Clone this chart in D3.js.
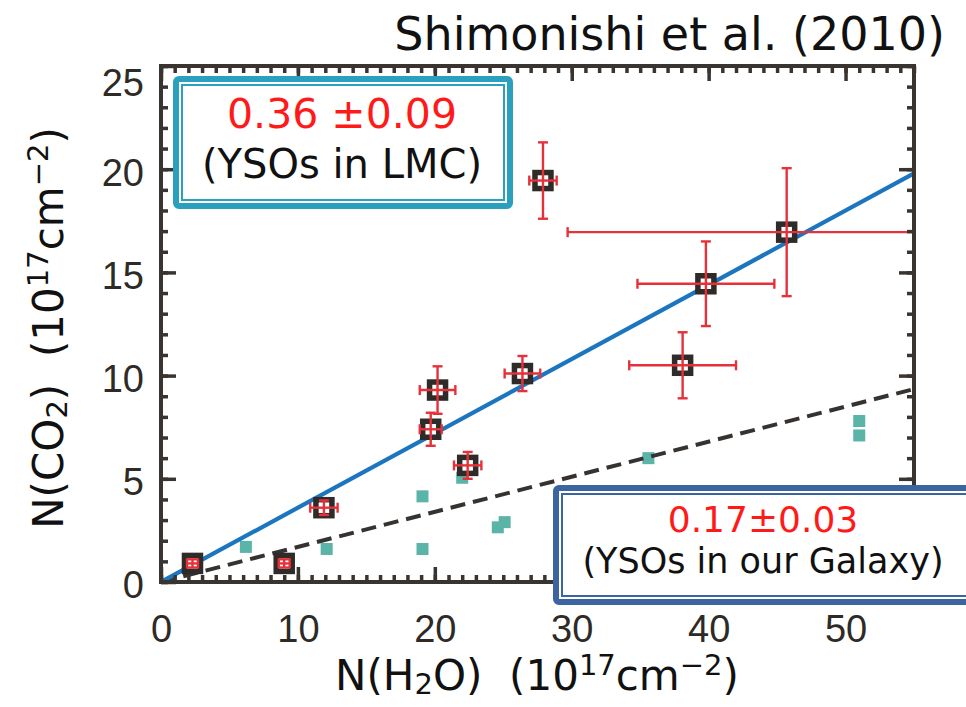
<!DOCTYPE html>
<html>
<head>
<meta charset="utf-8">
<script src="https://cdn.jsdelivr.net/npm/d3@7"></script>
<style>
  html, body { margin: 0; padding: 0; background: #ffffff; }
  svg { display: block; }
  text { white-space: pre; }
</style>
</head>
<body>
<svg id="chart" width="966" height="707"></svg>
<script>
// LMC young stellar objects: N(H2O) vs N(CO2), units of 1e17 cm^-2
const lmcH2O    = [2.3, 9.0, 11.9, 19.7, 20.2, 22.4, 26.4, 27.9, 38.1, 39.8, 45.7];
const lmcCO2    = [0.9, 0.9, 3.6, 7.4, 9.3, 5.65, 10.1, 19.45, 10.5, 14.45, 16.95];
const lmcH2OErr = [0.4, 0.4, 1.0, 0.8, 1.3, 1.0, 1.3, 1.0, 3.9, 5.0, 16.0];
const lmcCO2Err = [0.2, 0.2, 0.35, 0.8, 1.15, 0.65, 0.85, 1.85, 1.6, 2.05, 3.1];

// Galactic young stellar objects
const galH2O = [6.2, 12.1, 19.1, 19.1, 22.0, 24.6, 25.1, 35.6, 51.0, 51.0];
const galCO2 = [1.7, 1.6, 4.15, 1.6, 5.05, 2.65, 2.9, 6.0, 7.8, 7.1];

// Fitted CO2/H2O ratios
const lmcRatio = 0.36;
const galRatio = 0.17;

const xTickValues = [0, 10, 20, 30, 40, 50];
const yTickValues = [0, 5, 10, 15, 20, 25];
const xDomain = [0, 55];
const yDomain = [0, 25];

const svg = d3.select("#chart");
const x = d3.scaleLinear().domain(xDomain).range([161, 914]);
const y = d3.scaleLinear().domain(yDomain).range([582, 66]);

const frameColor = "#39342f";
const tickFont = "'Liberation Sans', Arial, sans-serif";
const textFont = "'DejaVu Sans', Verdana, sans-serif";

svg.append("rect").attr("width", 966).attr("height", 707).attr("fill", "#ffffff");

svg.append("clipPath").attr("id", "plotClip")
  .append("rect")
  .attr("x", x(0)).attr("y", y(25))
  .attr("width", x(55) - x(0)).attr("height", y(0) - y(25));

const plot = svg.append("g").attr("clip-path", "url(#plotClip)");

// Galactic sources
plot.append("g").selectAll("rect")
  .data(galH2O.map((v, i) => [v, galCO2[i]]))
  .join("rect")
  .attr("x", d => x(d[0]) - 6).attr("y", d => y(d[1]) - 6)
  .attr("width", 12).attr("height", 12)
  .attr("fill", "#5ab4a8");

// Ratio lines through the origin
const line = d3.line().x(d => x(d[0])).y(d => y(d[1]));
plot.append("path")
  .datum([[0, 0], [55, 55 * galRatio]])
  .attr("d", line)
  .attr("fill", "none").attr("stroke", "#36322f")
  .attr("stroke-width", 4).attr("stroke-dasharray", "15 8");
plot.append("path")
  .datum([[0, 0], [55, 55 * lmcRatio]])
  .attr("d", line)
  .attr("fill", "none").attr("stroke", "#1b76bf")
  .attr("stroke-width", 4.2);

// LMC sources with error bars
const lmc = lmcH2O.map((v, i) => ({ x: v, y: lmcCO2[i], ex: lmcH2OErr[i], ey: lmcCO2Err[i] }));
const cap = 5;
const lmcG = plot.append("g").selectAll("g").data(lmc).join("g");
lmcG.append("rect")
  .attr("x", d => x(d.x) - 8).attr("y", d => y(d.y) - 8)
  .attr("width", 16).attr("height", 16)
  .attr("fill", "#ffffff").attr("stroke", "#2f2b28").attr("stroke-width", 5.5);
const err = lmcG.append("g").attr("stroke", "#e5313a").attr("stroke-width", 2.4).attr("fill", "none");
err.append("line")
  .attr("x1", d => x(d.x - d.ex)).attr("x2", d => x(d.x + d.ex))
  .attr("y1", d => y(d.y)).attr("y2", d => y(d.y));
err.append("line")
  .attr("x1", d => x(d.x)).attr("x2", d => x(d.x))
  .attr("y1", d => y(d.y - d.ey)).attr("y2", d => y(d.y + d.ey));
err.append("line")
  .attr("x1", d => x(d.x - d.ex)).attr("x2", d => x(d.x - d.ex))
  .attr("y1", d => y(d.y) - cap).attr("y2", d => y(d.y) + cap);
err.append("line")
  .attr("x1", d => x(d.x + d.ex)).attr("x2", d => x(d.x + d.ex))
  .attr("y1", d => y(d.y) - cap).attr("y2", d => y(d.y) + cap);
err.append("line")
  .attr("x1", d => x(d.x) - cap).attr("x2", d => x(d.x) + cap)
  .attr("y1", d => y(d.y - d.ey)).attr("y2", d => y(d.y - d.ey));
err.append("line")
  .attr("x1", d => x(d.x) - cap).attr("x2", d => x(d.x) + cap)
  .attr("y1", d => y(d.y + d.ey)).attr("y2", d => y(d.y + d.ey));

// Axes: minor ticks every unit, major ticks at labelled values, on all four sides
function styleAxis(g) {
  g.select(".domain").remove();
  g.selectAll("line").attr("stroke", frameColor).attr("stroke-width", 3.5);
  g.attr("font-family", tickFont).attr("font-size", 38);
  g.selectAll("text").attr("fill", "#2e2a26");
}
const minorX = d3.range(0, 56, 1);
const minorY = d3.range(0, 26, 1);

svg.append("g").attr("transform", `translate(0,${y(0)})`)
  .call(d3.axisBottom(x).tickValues(minorX).tickSize(-7).tickFormat("")).call(styleAxis);
svg.append("g").attr("transform", `translate(0,${y(0)})`)
  .call(d3.axisBottom(x).tickValues(xTickValues).tickSize(-15).tickPadding(33).tickFormat(d3.format("d")))
  .call(styleAxis);
svg.append("g").attr("transform", `translate(0,${y(25)})`)
  .call(d3.axisTop(x).tickValues(minorX).tickSize(-7).tickFormat("")).call(styleAxis);
svg.append("g").attr("transform", `translate(0,${y(25)})`)
  .call(d3.axisTop(x).tickValues(xTickValues).tickSize(-15).tickFormat("")).call(styleAxis);

svg.append("g").attr("transform", `translate(${x(0)},0)`)
  .call(d3.axisLeft(y).tickValues(minorY).tickSize(-7).tickFormat("")).call(styleAxis);
const yMajor = svg.append("g").attr("transform", `translate(${x(0)},0)`)
  .call(d3.axisLeft(y).tickValues(yTickValues).tickSize(-15).tickPadding(17).tickFormat(d3.format("d")))
  .call(styleAxis);
yMajor.selectAll("text").attr("dy", d => d === 25 ? "0.77em" : "0.42em");
svg.append("g").attr("transform", `translate(${x(55)},0)`)
  .call(d3.axisRight(y).tickValues(minorY).tickSize(-7).tickFormat("")).call(styleAxis);
svg.append("g").attr("transform", `translate(${x(55)},0)`)
  .call(d3.axisRight(y).tickValues(yTickValues).tickSize(-15).tickFormat("")).call(styleAxis);

// Plot frame
svg.append("rect")
  .attr("x", x(0)).attr("y", y(25))
  .attr("width", x(55) - x(0)).attr("height", y(0) - y(25))
  .attr("fill", "none").attr("stroke", frameColor).attr("stroke-width", 4);

// Double-bordered annotation box
function box(x0, y0, w, h, color, lines) {
  const g = svg.append("g");
  g.append("rect").attr("x", x0 + 3).attr("y", y0 + 3).attr("width", w - 6).attr("height", h - 6)
    .attr("rx", 3).attr("fill", "#ffffff").attr("stroke", color).attr("stroke-width", 6);
  g.append("rect").attr("x", x0 + 9).attr("y", y0 + 9).attr("width", w - 18).attr("height", h - 18)
    .attr("fill", "none").attr("stroke", color).attr("stroke-width", 2);
  lines.forEach(l => {
    g.append("text").attr("x", l.cx).attr("y", l.y)
      .attr("text-anchor", "middle").attr("font-family", textFont)
      .attr("font-size", l.size).attr("fill", l.color).text(l.text);
  });
}
box(173, 76, 340, 133, "#2b9fbe", [
  { text: "0.36 ±0.09", cx: 342, y: 128, size: 41, color: "#ff1a1a" },
  { text: "(YSOs in LMC)", cx: 342, y: 178, size: 40, color: "#111111" }
]);
box(553, 485, 425, 120, "#3b64a0", [
  { text: "0.17±0.03", cx: 763, y: 532, size: 36, color: "#ff1a1a" },
  { text: "(YSOs in our Galaxy)", cx: 763, y: 573, size: 35, color: "#111111" }
]);

// Title
svg.append("text").attr("x", 945).attr("y", 50).attr("text-anchor", "end")
  .attr("font-family", textFont).attr("font-size", 46).attr("fill", "#111111")
  .text("Shimonishi et al. (2010)");

// Axis titles with sub- and superscripts
function axisTitle(g, main, sub) {
  const t = g.append("text").attr("text-anchor", "middle")
    .attr("font-family", textFont).attr("font-size", 42).attr("fill", "#111111");
  t.append("tspan").text(main);
  t.append("tspan").attr("font-size", 29).attr("dy", 4).text(sub[0]);
  t.append("tspan").attr("dy", -4).text(sub[1] + "  (10");
  t.append("tspan").attr("font-size", 29).attr("dy", -15).text("17");
  t.append("tspan").attr("dy", 15).text("cm");
  t.append("tspan").attr("font-size", 29).attr("dy", -15).text("\u22122");
  t.append("tspan").attr("dy", 15).text(")");
  return t;
}
axisTitle(svg.append("g").attr("transform", "translate(537,690)"), "N(H", ["2", "O)"]);
axisTitle(svg.append("g").attr("transform", "translate(63,328) rotate(-90)"), "N(CO", ["2", ")"]);
</script>
</body>
</html>
